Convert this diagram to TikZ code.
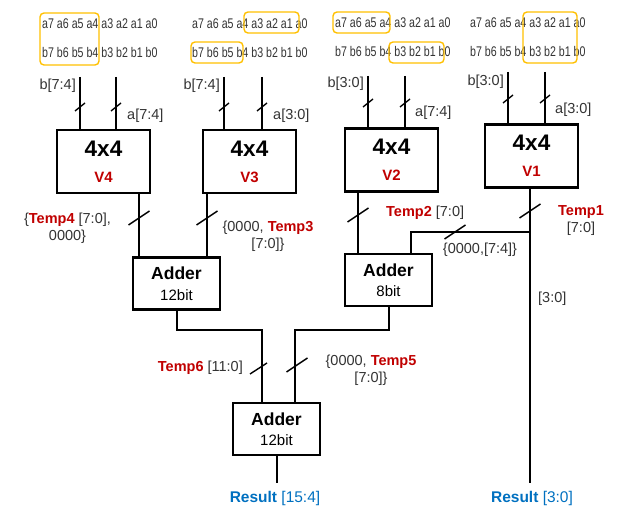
\documentclass[tikz,border=0pt]{standalone}
\usepackage{fontspec}
\setmainfont{Liberation Sans}
\newfontfamily\bitfont{Liberation Sans}[FakeStretch=0.76]
\usetikzlibrary{calc}
\definecolor{tred}{HTML}{C00000}
\definecolor{tblue}{HTML}{0070C0}
\definecolor{tgold}{HTML}{FFC000}
\definecolor{tgray}{HTML}{333333}
\tikzset{
  mult/.style={draw, line width=2.8pt, minimum width=93pt, minimum height=63pt, align=center, font=\fontsize{15}{26}\selectfont},
  adder/.style={draw, line width=2.8pt, minimum width=87pt, minimum height=52pt, align=center, font=\fontsize{15}{20.5}\selectfont},
  wire/.style={line width=2pt},
  slash/.style={line width=1.4pt},
  lbl/.style={inner sep=0pt, text=tgray, align=center, font=\fontsize{14.5}{17}\selectfont},
  res/.style={inner sep=0pt, text=tblue, font=\fontsize{15.5}{17}\selectfont},
  bits/.style={inner sep=0pt, anchor=west, text=tgray, font=\bitfont\fontsize{14}{16}\selectfont},
  grp/.style={draw=tgold, line width=1.4pt, rounded corners=4pt},
}
\begin{document}
\begin{tikzpicture}[x=1pt,y=-1pt]
    \useasboundingbox (0,0) rectangle (627,518);
    % operand bits
    \node[bits] (ra4) at (42,24) {a7 a6 a5 a4 a3 a2 a1 a0};
    \node[bits] (rb4) at (42,53) {b7 b6 b5 b4 b3 b2 b1 b0};
    \node[bits] (ra3) at (192,24) {a7 a6 a5 a4 a3 a2 a1 a0};
    \node[bits] (rb3) at (192,53) {b7 b6 b5 b4 b3 b2 b1 b0};
    \node[bits] (ra2) at (335,23) {a7 a6 a5 a4 a3 a2 a1 a0};
    \node[bits] (rb2) at (335,52) {b7 b6 b5 b4 b3 b2 b1 b0};
    \node[bits] (ra1) at (470,23) {a7 a6 a5 a4 a3 a2 a1 a0};
    \node[bits] (rb1) at (470,52) {b7 b6 b5 b4 b3 b2 b1 b0};
    \draw[grp] (40,13) rectangle (99,65);
    \draw[grp] (244,12) rectangle (299,33);
    \draw[grp] (191,42) rectangle (243,63);
    \draw[grp] (333,12) rectangle (390,33);
    \draw[grp] (389,42) rectangle (444,63);
    \draw[grp] (523,12) rectangle (577,63);

    % 4x4 multipliers
    \node[mult] (v4) at (103.5,161.5) {\textbf{\fontsize{22.5}{26}\selectfont 4x4}\\\textbf{\textcolor{tred}{V4}}};
    \node[mult] (v3) at (249.5,161.5) {\textbf{\fontsize{22.5}{26}\selectfont 4x4}\\\textbf{\textcolor{tred}{V3}}};
    \node[mult] (v2) at (391.5,160) {\textbf{\fontsize{22.5}{26}\selectfont 4x4}\\\textbf{\textcolor{tred}{V2}}};
    \node[mult] (v1) at (531.5,156) {\textbf{\fontsize{22.5}{26}\selectfont 4x4}\\\textbf{\textcolor{tred}{V1}}};

    % adders
    \node[adder] (add1) at (176.5,283.5) {\textbf{\fontsize{17.5}{20.5}\selectfont Adder}\\12bit};
    \node[adder] (add2) at (388.5,280) {\textbf{\fontsize{17.5}{20.5}\selectfont Adder}\\8bit};
    \node[adder] (add3) at (276.5,429) {\textbf{\fontsize{17.5}{20.5}\selectfont Adder}\\12bit};

    \node[res] (r1) at (275,498) {\textbf{Result} [15:4]};
    \node[res] (r0) at (532,498) {\textbf{Result} [3:0]};

    % input buses
    \coordinate (b4) at (80,77);
    \coordinate (a4) at (116,77);
    \coordinate (b3) at (224,77);
    \coordinate (a3) at (262,77);
    \coordinate (b2) at (368,76);
    \coordinate (a2) at (405,76);
    \coordinate (b1) at (508,72);
    \coordinate (a1) at (545,72);
    \draw[wire] (b4) -- (b4 |- v4.north);
    \draw[wire] (a4) -- (a4 |- v4.north);
    \draw[wire] (b3) -- (b3 |- v3.north);
    \draw[wire] (a3) -- (a3 |- v3.north);
    \draw[wire] (b2) -- (b2 |- v2.north);
    \draw[wire] (a2) -- (a2 |- v2.north);
    \draw[wire] (b1) -- (b1 |- v1.north);
    \draw[wire] (a1) -- (a1 |- v1.north);
    \draw[slash] (75,111) -- ++(10,-8);
    \draw[slash] (111,111) -- ++(10,-8);
    \draw[slash] (219,111) -- ++(10,-8);
    \draw[slash] (257,111) -- ++(10,-8);
    \draw[slash] (363,107) -- ++(10,-8);
    \draw[slash] (400,107) -- ++(10,-8);
    \draw[slash] (503,103) -- ++(10,-8);
    \draw[slash] (540,103) -- ++(10,-8);
    \node[lbl, anchor=east] (lb4) at (76,86) {b[7:4]};
    \node[lbl, anchor=west] (la4) at (127,116) {a[7:4]};
    \node[lbl, anchor=east] (lb3) at (220,86) {b[7:4]};
    \node[lbl, anchor=west] (la3) at (273,116) {a[3:0]};
    \node[lbl, anchor=east] (lb2) at (364,84) {b[3:0]};
    \node[lbl, anchor=west] (la2) at (415,113) {a[7:4]};
    \node[lbl, anchor=east] (lb1) at (504,82) {b[3:0]};
    \node[lbl, anchor=west] (la1) at (555,110) {a[3:0]};

    % partial products
    \coordinate (t4) at (139,0);
    \coordinate (t3) at (207,0);
    \coordinate (t2) at (358,0);
    \coordinate (t1) at (530,0);
    \coordinate (br) at (530,232);
    \coordinate (j2) at (411,232);
    \draw[wire] (v4.south -| t4) -- (add1.north -| t4);
    \draw[wire] (v3.south -| t3) -- (add1.north -| t3);
    \draw[wire] (v2.south -| t2) -- (add2.north -| t2);
    \draw[wire, shorten >=8pt] (v1.south -| t1) -- (t1 |- r0.north);
    \draw[wire] (br) -- (j2) -- (j2 |- add2.north);
    \draw[slash] (128.5,225) -- ++(21,-14);
    \draw[slash] (196.5,225) -- ++(21,-14);
    \draw[slash] (347.5,222) -- ++(21,-14);
    \draw[slash] (519.5,218) -- ++(21,-14);
    \draw[slash] (444.5,239) -- ++(21,-14);
    \node[lbl] (lt4) at (67.5,228) {\{\textbf{\textcolor{tred}{Temp4}} [7:0],\\0000\}};
    \node[lbl] (lt3) at (268,236) {\{0000, \textbf{\textcolor{tred}{Temp3}}\\{[7:0]}\}};
    \node[lbl, anchor=west] (lt2) at (386,213) {\textbf{\textcolor{tred}{Temp2}} [7:0]};
    \node[lbl] (lt1) at (581,221) {\textbf{\textcolor{tred}{Temp1}}\\{[7:0]}};
    \node[lbl] (lbr) at (480,250) {\{0000,[7:4]\}};
    \node[lbl, anchor=west] (l30) at (538,299) {[3:0]};

    % final sum
    \coordinate (j6) at (262,330);
    \coordinate (j5) at (295,330);
    \draw[wire] (add1.south) |- (j6) -- (j6 |- add3.north);
    \draw[wire] (add2.south) |- (j5) -- (j5 |- add3.north);
    \draw[wire, shorten >=8pt] (add3.south) -- (add3.south |- r1.north);
    \draw[slash] (250,374) -- ++(17,-11);
    \draw[slash] (286.5,372) -- ++(21,-14);
    \node[lbl, anchor=east] (lt6) at (243,368) {\textbf{\textcolor{tred}{Temp6}} [11:0]};
    \node[lbl] (lt5) at (371,370) {\{0000, \textbf{\textcolor{tred}{Temp5}}\\{[7:0]}\}};
\end{tikzpicture}
\end{document}
